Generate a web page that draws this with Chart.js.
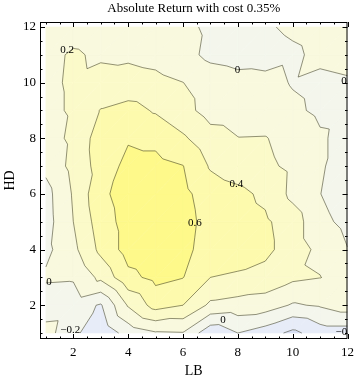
<!DOCTYPE html>
<html>
<head>
<meta charset="utf-8">
<script src="https://cdn.jsdelivr.net/npm/chart.js@4.4.0/dist/chart.umd.min.js"></script>
<style>
  html, body { margin: 0; padding: 0; background: #fff; }
</style>
</head>
<body>
<canvas id="contourChart" width="360" height="380"></canvas>
<script>
// grid axes
const lbValues = [1, 2, 3, 4, 5, 6, 7, 8, 9, 10, 11, 12];
const hdValues = [1, 2, 3, 4, 5, 6, 7, 8, 9, 10, 11, 12];

// absolute return, one row per HD value (LB 1..12 across)
const hd1  = [0.08, -0.15, -0.35, -0.12, -0.02, -0.01, -0.34, -0.20, -0.30, -0.45, -0.30, -0.30];
const hd2  = [-0.12, -0.10, -0.22, 0.22, 0.48, 0.40, 0.16, 0.12, 0.10, -0.02, 0.02, 0.10];
const hd3  = [0.03, 0.02, 0.25, 0.55, 0.65, 0.605, 0.40, 0.38, 0.33, 0.24, 0.205, 0.12];
const hd4  = [-0.05, 0.15, 0.45, 0.68, 0.72, 0.66, 0.50, 0.47, 0.45, 0.30, 0.15, 0.005];
const hd5  = [-0.08, 0.20, 0.50, 0.68, 0.72, 0.68, 0.52, 0.48, 0.43, 0.30, 0.05, -0.05];
const hd6  = [-0.07, 0.22, 0.55, 0.70, 0.71, 0.65, 0.50, 0.45, 0.36, 0.15, 0.003, -0.10];
const hd7  = [0.05, 0.26, 0.48, 0.66, 0.66, 0.605, 0.38, 0.30, 0.24, 0.16, 0.02, -0.08];
const hd8  = [0.12, 0.24, 0.50, 0.58, 0.55, 0.43, 0.27, 0.205, 0.21, 0.12, 0.02, -0.05];
const hd9  = [0.16, 0.22, 0.41, 0.47, 0.38, 0.26, 0.13, 0.12, 0.08, 0.03, -0.03, -0.04];
const hd10 = [0.17, 0.22, 0.25, 0.27, 0.25, 0.202, 0.12, 0.07, 0.05, -0.01, -0.04, -0.02];
const hd11 = [0.165, 0.215, 0.18, 0.17, 0.14, 0.07, -0.05, -0.08, -0.07, -0.03, 0.04, 0.06];
const hd12 = [0.12, 0.15, 0.14, 0.13, 0.10, 0.04, -0.03, -0.07, -0.02, 0.03, 0.06, 0.06];
const returnRows = [hd1, hd2, hd3, hd4, hd5, hd6, hd7, hd8, hd9, hd10, hd11, hd12];

const contourLevels = [-0.4, -0.2, 0, 0.2, 0.4, 0.6];
const tickValues = [2, 4, 6, 8, 10, 12];

// contour labels (data coordinates)
const labelLB = [1.77, 7.99, 11.87, 7.95, 6.43, 1.11, 1.89, 7.46, 11.93];
const labelHD = [11.18, 10.44, 10.07, 6.37, 4.96, 2.84, 1.12, 1.48, 1.02];
const labelText = ["0.2", "0", "0", "0.4", "0.6", "0", "\u22120.2", "0", "\u22120.2"];

// band colours, lowest to highest
const bandColors = ["#D9E0F5", "#E7ECF8", "#F4F6EC", "#F9F9DE", "#FBFAC9", "#FDFAAD", "#FEF98A"];
const lineColor = "rgba(40,40,20,0.5)";
const serif = "'Liberation Serif', 'DejaVu Serif', serif";

function clipPoly(poly, level, keepAbove) {
  const out = [];
  for (let k = 0; k < poly.length; k++) {
    const a = poly[k];
    const b = poly[(k + 1) % poly.length];
    const ina = keepAbove ? a.z >= level : a.z <= level;
    const inb = keepAbove ? b.z >= level : b.z <= level;
    if (ina) out.push(a);
    if (ina !== inb) {
      const t = (level - a.z) / (b.z - a.z);
      out.push({ x: a.x + t * (b.x - a.x), y: a.y + t * (b.y - a.y), z: level });
    }
  }
  return out;
}

function buildTriangles(chart) {
  const { x, y } = chart.scales;
  const pt = (i, j) => ({
    x: x.getPixelForValue(lbValues[i]),
    y: y.getPixelForValue(hdValues[j]),
    z: returnRows[j][i],
  });
  const tris = [];
  for (let j = 0; j < hdValues.length - 1; j++) {
    for (let i = 0; i < lbValues.length - 1; i++) {
      const p00 = pt(i, j), p10 = pt(i + 1, j), p11 = pt(i + 1, j + 1), p01 = pt(i, j + 1);
      tris.push([p00, p10, p11]);
      tris.push([p00, p11, p01]);
    }
  }
  return tris;
}

const contourPlugin = {
  id: "contour",
  beforeDatasetsDraw(chart) {
    const { ctx, chartArea } = chart;
    const tris = buildTriangles(chart);
    const bounds = [-Infinity, ...contourLevels, Infinity];

    ctx.save();
    ctx.beginPath();
    ctx.rect(chartArea.left, chartArea.top, chartArea.width, chartArea.height);
    ctx.clip();

    // filled bands
    ctx.lineWidth = 0.6;
    tris.forEach((tri) => {
      for (let k = 0; k < bounds.length - 1; k++) {
        let poly = tri;
        if (isFinite(bounds[k])) poly = clipPoly(poly, bounds[k], true);
        if (poly.length >= 3 && isFinite(bounds[k + 1])) poly = clipPoly(poly, bounds[k + 1], false);
        if (poly.length < 3) continue;
        ctx.beginPath();
        ctx.moveTo(poly[0].x, poly[0].y);
        for (let n = 1; n < poly.length; n++) ctx.lineTo(poly[n].x, poly[n].y);
        ctx.closePath();
        ctx.fillStyle = bandColors[k];
        ctx.strokeStyle = bandColors[k];
        ctx.fill();
        ctx.stroke();
      }
    });

    // contour lines
    ctx.strokeStyle = lineColor;
    ctx.lineWidth = 1;
    ctx.lineJoin = "round";
    contourLevels.forEach((lev) => {
      const L = lev + 1e-7;
      ctx.beginPath();
      tris.forEach((tri) => {
        const pts = [];
        for (let k = 0; k < 3; k++) {
          const a = tri[k], b = tri[(k + 1) % 3];
          if ((a.z - L) * (b.z - L) < 0) {
            const t = (L - a.z) / (b.z - a.z);
            pts.push([a.x + t * (b.x - a.x), a.y + t * (b.y - a.y)]);
          }
        }
        if (pts.length === 2) {
          ctx.moveTo(pts[0][0], pts[0][1]);
          ctx.lineTo(pts[1][0], pts[1][1]);
        }
      });
      ctx.stroke();
    });

    // contour labels
    const { x, y } = chart.scales;
    ctx.fillStyle = "#000";
    ctx.font = "11px " + serif;
    ctx.textAlign = "center";
    ctx.textBaseline = "middle";
    labelText.forEach((txt, n) => {
      ctx.fillText(txt, x.getPixelForValue(labelLB[n]), y.getPixelForValue(labelHD[n]));
    });
    ctx.restore();
  },
  afterDraw(chart) {
    // frame with inward ticks on all four sides
    const { ctx, chartArea: a } = chart;
    const { x, y } = chart.scales;
    ctx.save();
    ctx.strokeStyle = "#000";
    ctx.lineWidth = 1;
    ctx.strokeRect(a.left + 0.5, a.top + 0.5, a.width - 1, a.height - 1);
    ctx.beginPath();
    for (let v = 1; v <= 12.001; v += 0.5) {
      const len = tickValues.includes(v) ? 5 : 2.5;
      const px = Math.round(x.getPixelForValue(v)) + 0.5;
      ctx.moveTo(px, a.bottom); ctx.lineTo(px, a.bottom - len);
      ctx.moveTo(px, a.top); ctx.lineTo(px, a.top + len);
      const py = Math.round(y.getPixelForValue(v)) + 0.5;
      ctx.moveTo(a.left, py); ctx.lineTo(a.left + len, py);
      ctx.moveTo(a.right, py); ctx.lineTo(a.right - len, py);
    }
    ctx.stroke();
    ctx.restore();
  },
};

const setTicks = (scale) => {
  scale.ticks = tickValues.map((v) => ({ value: v }));
};

new Chart(document.getElementById("contourChart"), {
  type: "scatter",
  data: { datasets: [{ data: [], pointRadius: 0 }] },
  options: {
    responsive: false,
    animation: false,
    layout: { padding: { right: 8, left: 0, top: 0, bottom: 0 } },
    plugins: {
      legend: { display: false },
      tooltip: { enabled: false },
      title: {
        display: true,
        text: "Absolute Return with cost 0.35%",
        color: "#000",
        fullSize: false,
        font: { family: serif, size: 13, weight: "normal" },
        padding: { top: 1, bottom: 5.4 },
      },
    },
    scales: {
      x: {
        type: "linear",
        min: 0.785,
        max: 12,
        grid: { display: false, drawTicks: false },
        border: { display: false },
        afterBuildTicks: setTicks,
        afterFit: (s) => { s.height = 41; },
        ticks: { color: "#000", padding: 6, font: { family: serif, size: 13 } },
        title: { display: true, text: "LB", color: "#000", padding: { top: 0, bottom: 0 }, font: { family: serif, size: 14 } },
      },
      y: {
        type: "linear",
        min: 0.785,
        max: 12.18,
        grid: { display: false, drawTicks: false },
        border: { display: false },
        afterBuildTicks: setTicks,
        afterFit: (s) => { s.width = 40; },
        ticks: { color: "#000", padding: 4, font: { family: serif, size: 13 } },
        title: { display: true, text: "HD", color: "#000", padding: { top: 2, bottom: 0 }, font: { family: serif, size: 14 } },
      },
    },
  },
  plugins: [contourPlugin],
});
</script>
</body>
</html>
